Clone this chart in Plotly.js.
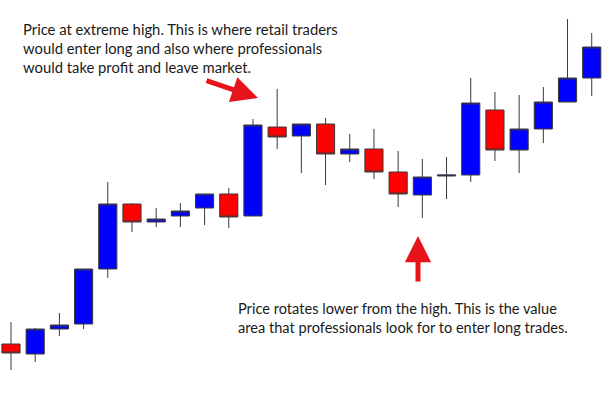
<!DOCTYPE html>
<html>
<head>
<meta charset="utf-8">
<script src="https://cdn.plot.ly/plotly-3.0.1.min.js"></script>
<style>html,body{margin:0;padding:0;background:#fff;}#chart{width:606px;height:393px;}</style>
</head>
<body>
<div id="chart"></div>
<script>
// Candle index (time) and OHLC prices
const bars  = [0,1,2,3,4,5,6,7,8,9,10,11,12,13,14,15,16,17,18,19,20,21,22,23,24];
const open  = [56,46,71,76,131,196,178,184,192,206,184,273,264,276,246,251,228,205,224,225,290,250,271,298,322];
const high  = [78,72,87,131,218,197,192,197,206,212,281,311,276,282,266,271,249,241,243,322,308,305,313,381,367];
const low   = [30,38,64,71,122,168,173,173,175,172,184,251,227,215,238,221,193,182,201,218,239,227,257,298,304];
const close = [47,71,75,131,196,178,181,189,206,183,275,263,276,246,251,228,206,223,225,297,250,271,298,322,353];

const noteHigh = "Price at extreme high. This is where retail traders<br>would enter long and also where professionals<br>would take profit and leave market.";
const noteLow  = "Price rotates lower from the high. This is the value<br>area that professionals look for to enter long trades.";

const trace = {
  type: 'candlestick',
  x: bars, open: open, high: high, low: low, close: close,
  increasing: {fillcolor: '#0000ff', line: {color: '#3a3a3a', width: 1}},
  decreasing: {fillcolor: '#ff0000', line: {color: '#3a3a3a', width: 1}},
  whiskerwidth: 0,
  hoverinfo: 'skip',
  showlegend: false
};

const W = 606, H = 393;
const layout = {
  width: W, height: H,
  margin: {l: 0, r: 0, t: 0, b: 0},
  paper_bgcolor: '#ffffff', plot_bgcolor: '#ffffff',
  boxgap: 0.25,
  boxgroupgap: 0,
  showlegend: false,
  xaxis: {range: [-0.4545, 24.59], visible: false, rangeslider: {visible: false}, fixedrange: true},
  yaxis: {range: [7, 400], visible: false, fixedrange: true},
  font: {family: 'Lato, "Open Sans", sans-serif', color: '#1e1e1e'},
  annotations: [
    {text: noteHigh, xref: 'paper', yref: 'paper', x: 21/W, y: 1 - 18/H,
     xanchor: 'left', yanchor: 'top', align: 'left', showarrow: false,
     font: {size: 14.8, family: 'Lato, "Open Sans", sans-serif', color: '#1a1a1a'}},
    {text: noteLow, xref: 'paper', yref: 'paper', x: 236/W, y: 1 - 298/H,
     xanchor: 'left', yanchor: 'top', align: 'left', showarrow: false,
     font: {size: 14.6, family: 'Lato, "Open Sans", sans-serif', color: '#1a1a1a'}},
    {text: '', xref: 'paper', yref: 'paper', x: 258/W, y: 1 - 98/H,
     showarrow: true, ax: -53, ay: -18, arrowcolor: '#e8141b', arrowwidth: 5,
     arrowhead: 2, arrowsize: 1.05, standoff: 0, startstandoff: 0},
    {text: '', xref: 'paper', yref: 'paper', x: 418/W, y: 1 - 236/H,
     showarrow: true, ax: 0, ay: 47, arrowcolor: '#e8141b', arrowwidth: 5,
     arrowhead: 2, arrowsize: 1.05, standoff: 0, startstandoff: 0}
  ]
};

Plotly.newPlot('chart', [trace], layout, {staticPlot: true, displayModeBar: false});
</script>
</body>
</html>
